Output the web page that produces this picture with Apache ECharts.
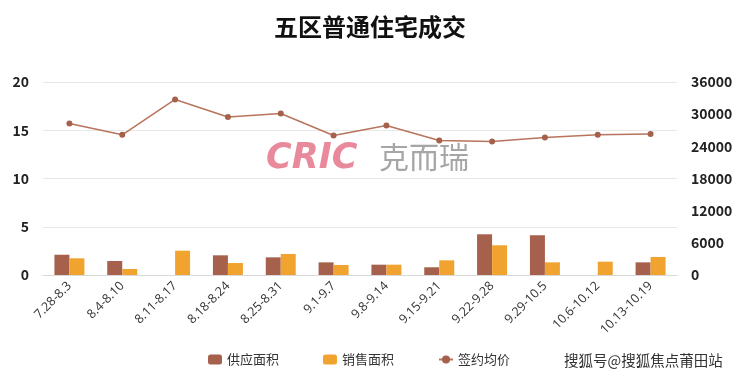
<!DOCTYPE html>
<html>
<head>
<meta charset="utf-8">
<script src="https://cdn.jsdelivr.net/npm/echarts@6/dist/echarts.min.js"></script>
<style>html,body{margin:0;padding:0;background:#fff;}#c{width:740px;height:380px;}</style>
</head>
<body>
<div id="c"></div>
<script>
const categories = ['7.28-8.3','8.4-8.10','8.11-8.17','8.18-8.24','8.25-8.31','9.1-9.7','9.8-9.14','9.15-9.21','9.22-9.28','9.29-10.5','10.6-10.12','10.13-10.19'];
const supplyArea = [2.1, 1.45, 0, 2.04, 1.83, 1.31, 1.07, 0.8, 4.22, 4.12, 0, 1.31];
const salesArea = [1.73, 0.62, 2.52, 1.24, 2.18, 1.04, 1.07, 1.52, 3.08, 1.31, 1.38, 1.87];
const avgPrice = [28260, 26150, 32750, 29460, 30130, 26020, 27890, 25090, 24900, 25650, 26150, 26280];

const font = '"Noto Sans CJK SC", "Noto Sans", sans-serif';
const chart = echarts.init(document.getElementById('c'));
chart.setOption({
  animation: false,
  textStyle: { fontFamily: font },
  title: {
    text: '五区普通住宅成交', left: 'center', top: 10,
    textStyle: { fontSize: 24, fontWeight: 'bold', color: '#111', fontFamily: font }
  },
  grid: { left: 43, right: 63, top: 82, bottom: 105 },
  legend: {
    left: 203, top: 348, itemGap: 44, itemWidth: 14, itemHeight: 10,
    textStyle: { fontSize: 13, color: '#333', fontFamily: font },
    data: ['供应面积', '销售面积', '签约均价']
  },
  graphic: [
    { type: 'text', left: 266, top: 141, style: { text: 'CRIC', fontSize: 35, fontWeight: 'bold', fontStyle: 'italic', fill: '#E98A9C', fontFamily: '"DejaVu Sans", sans-serif' }, z: 0 },
    { type: 'text', left: 379, top: 142, style: { text: '克而瑞', fontSize: 30, fill: '#A6A6A6', fontFamily: font }, z: 0 },
    { type: 'text', left: 563, top: 352, style: { text: '搜狐号@搜狐焦点莆田站', fontSize: 14.5, fill: '#333', stroke: '#fff', lineWidth: 2, fontFamily: font } }
  ],
  xAxis: {
    type: 'category', data: categories,
    axisLine: { lineStyle: { color: '#d9d9d9' } },
    axisTick: { show: false },
    axisLabel: { rotate: 45, interval: 0, fontSize: 12.5, color: '#333', margin: 9, fontFamily: '"Open Sans", "Noto Sans", sans-serif' }
  },
  yAxis: [
    {
      type: 'value', min: 0, max: 20, interval: 5,
      axisLabel: { fontSize: 14, fontWeight: 'bold', color: '#222', margin: 14 },
      splitLine: { lineStyle: { color: '#e8e8e8' } },
      axisLine: { show: false }, axisTick: { show: false }
    },
    {
      type: 'value', min: 0, max: 36000, interval: 6000,
      axisLabel: { fontSize: 14, fontWeight: 'bold', color: '#222', margin: 14, formatter: v => String(v) },
      splitLine: { show: false },
      axisLine: { show: false }, axisTick: { show: false }
    }
  ],
  series: [
    { name: '供应面积', type: 'bar', data: supplyArea, barWidth: 15, barGap: '0%', itemStyle: { color: '#A5614B' }, z: 2 },
    { name: '销售面积', type: 'bar', data: salesArea, barWidth: 15, itemStyle: { color: '#F0A42F' }, z: 2 },
    { name: '签约均价', type: 'line', yAxisIndex: 1, data: avgPrice, symbol: 'circle', symbolSize: 6,
      lineStyle: { color: '#B8745C', width: 1.5 }, itemStyle: { color: '#A5614B' }, z: 3 }
  ]
});
</script>
</body>
</html>
